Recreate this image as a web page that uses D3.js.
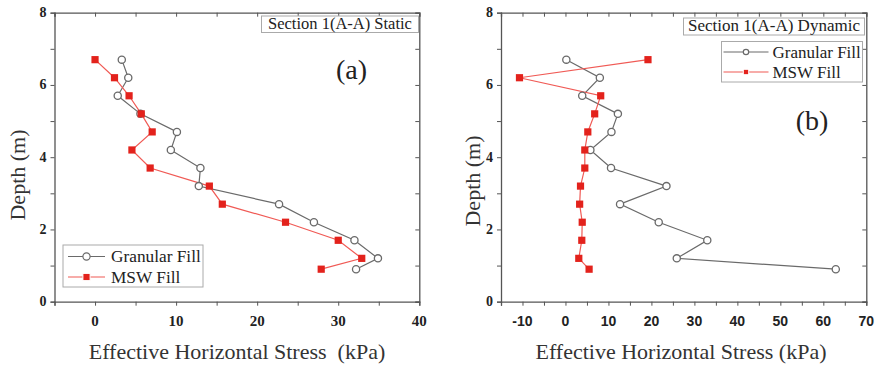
<!DOCTYPE html>
<html><head><meta charset="utf-8">
<script src="https://cdn.jsdelivr.net/npm/d3@7"></script>
<style>body{margin:0;background:#fff}</style>
</head><body><svg id="c" width="880" height="367"></svg>
<script>
const depths = [6.7, 6.2, 5.7, 5.2, 4.7, 4.2, 3.7, 3.2, 2.7, 2.2, 1.7, 1.2, 0.9];
const staticGranular = [3.3, 4.1, 2.8, 5.6, 10.1, 9.35, 13.0, 12.8, 22.7, 27.0, 32.0, 34.9, 32.2];
const staticMSW = [0, 2.4, 4.2, 5.7, 7.05, 4.55, 6.8, 14.1, 15.7, 23.5, 30.0, 32.9, 27.9];
const dynGranular = [0.2, 8.0, 3.9, 12.2, 10.7, 5.8, 10.6, 23.5, 12.7, 21.7, 33.0, 25.9, 62.9];
const dynMSW = [19.2, -10.7, 8.2, 6.8, 5.2, 4.5, 4.5, 3.5, 3.3, 3.9, 3.8, 3.1, 5.5];
const yTicks = [0, 2, 4, 6, 8];
const xTicksA = [0, 10, 20, 30, 40];
const xTicksB = [-10, 0, 10, 20, 30, 40, 50, 60, 70];
const seriesNames = ["Granular Fill", "MSW Fill"];

const svg = d3.select("#c");
const serif = "Liberation Serif";
const sans = "Liberation Sans";
const GRAY = "#6a6a6a", RED_LINE = "#f05a55", RED = "#e3221c";

function panel(opt) {
  const x = d3.scaleLinear().domain(opt.xdom).range([opt.x0, opt.x1]);
  const y = d3.scaleLinear().domain([0, 8]).range([301.7, 12.7]);
  const g = svg.append("g");
  const minorX = d3.range(opt.xdom[0], opt.xdom[1] + 0.001, 5);
  const minorY = d3.range(0, 8.001, 1);
  const bx = g.append("g").attr("transform", `translate(0,${y(0)})`)
    .call(d3.axisBottom(x).tickValues(minorX).tickSize(4).tickFormat(""));
  const tx = g.append("g").attr("transform", `translate(0,${y(8)})`)
    .call(d3.axisBottom(x).tickValues(minorX).tickSize(4).tickFormat(""));
  const lx = g.append("g").attr("transform", `translate(${x(opt.xdom[0])},0)`)
    .call(d3.axisLeft(y).tickValues(minorY).tickSize(4).tickFormat(""));
  const rx = g.append("g").attr("transform", `translate(${x(opt.xdom[1])},0)`)
    .call(d3.axisLeft(y).tickValues(minorY).tickSize(4).tickFormat(""));
  [bx, tx, lx, rx].forEach(a => {
    a.selectAll("path.domain").attr("stroke", "#555").attr("stroke-width", 1.3);
    a.selectAll(".tick line").attr("stroke", "#555").attr("stroke-width", 1);
  });
  g.selectAll(".xl").data(opt.xticks).enter().append("text")
    .attr("x", d => x(d)).attr("y", 326).attr("text-anchor", "middle")
    .style("font-family", opt.xfont).style("font-weight", "bold")
    .style("font-size", opt.xfs + "px").attr("fill", "#222").text(d => d);
  g.selectAll(".yl").data(yTicks).enter().append("text")
    .attr("x", x(opt.xdom[0]) - 8).attr("y", d => y(d) + 4.5).attr("text-anchor", "end")
    .style("font-family", serif).style("font-weight", "bold")
    .style("font-size", "14px").attr("fill", "#222").text(d => d);
  g.append("text").attr("x", opt.xtitleX).attr("y", 359).attr("text-anchor", "middle")
    .style("font-family", serif).style("font-size", "22px").attr("fill", "#333").style("white-space", "pre")
    .text(opt.xtitle);
  g.append("text").attr("transform", `translate(${opt.ytitleX},${opt.ytitleY}) rotate(-90)`)
    .attr("text-anchor", "middle").style("font-family", serif).style("font-size", "22px")
    .attr("fill", "#333").text("Depth (m)");
  const line = d3.line().x(d => x(d[0])).y(d => y(d[1]));
  const gd = opt.gran.map((v, i) => [v, depths[i]]);
  const md = opt.msw.map((v, i) => [v, depths[i]]);
  g.append("path").datum(gd).attr("d", line).attr("fill", "none").attr("stroke", GRAY).attr("stroke-width", 1.2);
  g.append("path").datum(md).attr("d", line).attr("fill", "none").attr("stroke", RED_LINE).attr("stroke-width", 1.2);
  g.selectAll(".gc").data(gd).enter().append("circle")
    .attr("cx", d => x(d[0])).attr("cy", d => y(d[1])).attr("r", 3.6)
    .attr("fill", "#fff").attr("stroke", GRAY).attr("stroke-width", 1.3);
  g.selectAll(".ms").data(md).enter().append("rect")
    .attr("x", d => x(d[0]) - 3.6).attr("y", d => y(d[1]) - 3.6).attr("width", 7.2).attr("height", 7.2)
    .attr("fill", RED);
  const sb = opt.secBox;
  g.append("rect").attr("x", sb[0]).attr("y", sb[1]).attr("width", sb[2]).attr("height", sb[3])
    .attr("fill", "#fff").attr("stroke", "#aaa").attr("stroke-width", 1);
  g.append("text").attr("x", sb[0] + sb[2] / 2).attr("y", sb[1] + sb[3] - 4).attr("text-anchor", "middle")
    .style("font-family", serif).style("font-size", opt.secFs + "px").attr("fill", "#222").text(opt.secTitle);
  g.append("text").attr("x", opt.lab[0]).attr("y", opt.lab[1]).attr("text-anchor", "middle")
    .style("font-family", serif).style("font-size", "28px").attr("fill", "#222").text(opt.label);
  const L = opt.leg;
  g.append("rect").attr("x", L.x).attr("y", L.y).attr("width", L.w).attr("height", L.h)
    .attr("fill", "#fff").attr("stroke", "#aaa").attr("stroke-width", 1);
  seriesNames.forEach((name, i) => {
    const yy = L.y + L.row0 + i * L.dy;
    const lx0 = L.x + L.pad, lx1 = lx0 + L.len, mx = (lx0 + lx1) / 2;
    g.append("line").attr("x1", lx0).attr("x2", lx1).attr("y1", yy).attr("y2", yy)
      .attr("stroke", i === 0 ? GRAY : RED_LINE).attr("stroke-width", 1.2);
    if (i === 0) {
      g.append("circle").attr("cx", mx).attr("cy", yy).attr("r", L.r)
        .attr("fill", "#fff").attr("stroke", GRAY).attr("stroke-width", 1.2);
    } else {
      g.append("rect").attr("x", mx - L.r).attr("y", yy - L.r).attr("width", 2 * L.r).attr("height", 2 * L.r)
        .attr("fill", RED).attr("stroke", "#fff").attr("stroke-width", 1);
    }
    g.append("text").attr("x", lx1 + L.gap).attr("y", yy + L.fs * 0.33)
      .style("font-family", serif).style("font-size", L.fs + "px").attr("fill", "#222").text(name);
  });
}

panel({
  xdom: [-5, 40], x0: 54.5, x1: 419.3, xticks: xTicksA, xfont: serif, xfs: 15,
  gran: staticGranular, msw: staticMSW,
  xtitle: "Effective Horizontal Stress  (kPa)", xtitleX: 237, ytitleX: 25, ytitleY: 175,
  secBox: [261.5, 16, 157, 16.5], secTitle: "Section 1(A-A) Static", secFs: 16.5,
  lab: [351.5, 79], label: "(a)",
  leg: {x: 63, y: 245, w: 140, h: 42, pad: 5, len: 37, gap: 6, row0: 11.5, dy: 20.5, r: 3.6, fs: 17.3}
});
panel({
  xdom: [-15, 70], x0: 501, x1: 866.3, xticks: xTicksB, xfont: sans, xfs: 14,
  gran: dynGranular, msw: dynMSW,
  xtitle: "Effective Horizontal Stress (kPa)", xtitleX: 681, ytitleX: 480, ytitleY: 181,
  secBox: [683.5, 18, 181, 17], secTitle: "Section 1(A-A) Dynamic", secFs: 17,
  lab: [812, 130], label: "(b)",
  leg: {x: 721.5, y: 41.5, w: 141, h: 40.5, pad: 2, len: 45, gap: 4, row0: 10.5, dy: 20, r: 2.7, fs: 17}
});
</script></body></html>
